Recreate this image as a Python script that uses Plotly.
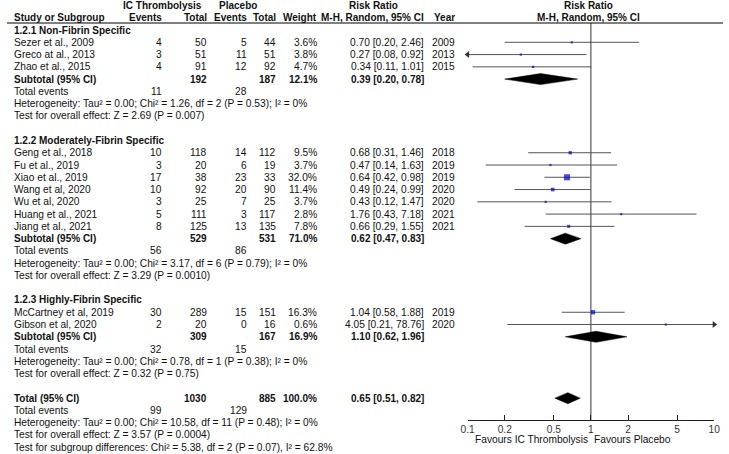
import plotly.graph_objects as go

# ---------------- data ----------------
group_names = ["1.2.1 Non-Fibrin Specific", "1.2.2 Moderately-Fibrin Specific", "1.2.3 Highly-Fibrin Specific"]
study_group = [0, 0, 0, 1, 1, 1, 1, 1, 1, 1, 2, 2]
studies = ["Sezer et al., 2009", "Greco at al., 2013", "Zhao et al., 2015",
           "Geng et al., 2018", "Fu et al., 2019", "Xiao et al., 2019", "Wang et al, 2020",
           "Wu et al, 2020", "Huang et al., 2021", "Jiang et al., 2021",
           "McCartney et al, 2019", "Gibson et al, 2020"]
ic_events = [4, 3, 4, 10, 3, 17, 10, 3, 5, 8, 30, 2]
ic_total = [50, 51, 91, 118, 20, 38, 92, 25, 111, 125, 289, 20]
pl_events = [5, 11, 12, 14, 6, 23, 20, 7, 3, 13, 15, 0]
pl_total = [44, 51, 92, 112, 19, 33, 90, 25, 117, 135, 151, 16]
weights = [3.6, 3.8, 4.7, 9.5, 3.7, 32.0, 11.4, 3.7, 2.8, 7.8, 16.3, 0.6]
rr = [0.70, 0.27, 0.34, 0.68, 0.47, 0.64, 0.49, 0.43, 1.76, 0.66, 1.04, 4.05]
rr_lo = [0.20, 0.08, 0.11, 0.31, 0.14, 0.42, 0.24, 0.12, 0.43, 0.29, 0.58, 0.21]
rr_hi = [2.46, 0.92, 1.01, 1.46, 1.63, 0.98, 0.99, 1.47, 7.18, 1.55, 1.88, 78.76]
years = [2009, 2013, 2015, 2018, 2019, 2019, 2020, 2020, 2021, 2021, 2019, 2020]

sub_ic_total = [192, 529, 309]
sub_pl_total = [187, 531, 167]
sub_weight = [12.1, 71.0, 16.9]
sub_rr = [0.39, 0.62, 1.10]
sub_lo = [0.20, 0.47, 0.62]
sub_hi = [0.78, 0.83, 1.96]
sub_ic_events = [11, 56, 32]
sub_pl_events = [28, 86, 15]
sub_tau2 = ["0.00", "0.00", "0.00"]
sub_chi2 = ["1.26", "3.17", "0.78"]
sub_df = [2, 6, 1]
sub_p_het = ["0.53", "0.79", "0.38"]
sub_i2 = ["0%", "0%", "0%"]
sub_z = ["2.69", "3.29", "0.32"]
sub_p_z = ["0.007", "0.0010", "0.75"]

tot_ic_total, tot_pl_total, tot_weight = 1030, 885, 100.0
tot_rr, tot_lo, tot_hi = 0.65, 0.51, 0.82
tot_ic_events, tot_pl_events = 99, 129
tot_het = ("0.00", "10.58", 11, "0.48", "0%")
tot_z = ("3.57", "0.0004")
subgroup_diff = ("5.38", 2, "0.07", "62.8%")

tick_vals = [0.1, 0.2, 0.5, 1, 2, 5, 10]
tick_text = ["0.1", "0.2", "0.5", "1", "2", "5", "10"]

# ---------------- layout constants ----------------
W, H = 729, 454
ROW0, STEP = 5.5, 12.27
X_LO, X_HI = 0.1, 10
AX_LEFT, AX_RIGHT, AX_Y = 469, 720, 420
C_STUDY, C_ICE, C_ICT, C_PLE, C_PLT, C_W, C_CI, C_YR = 6, 159, 205, 245, 275, 317, 426, 457
FONT = "Liberation Sans"
TXT = "#111111"
REG, BLD = 10.2, 10.0


def ry(k):
    return ROW0 + STEP * k


ann = []


def txt(x, y, s, anchor="left", bold=False, size=None, color=TXT):
    ann.append(dict(x=x / W, xref="paper", y=y, yref="y", text=(f"<b>{s}</b>" if bold else s),
                    showarrow=False, xanchor=anchor, yanchor="middle", borderpad=0,
                    font=dict(family=FONT, size=size or (BLD if bold else REG), color=color)))


def ci_str(r, l, h):
    return f"{r:.2f} [{l:.2f}, {h:.2f}]"


fig = go.Figure()

# headers
txt(158, ry(0), "IC Thrombolysis", "center", True)
txt(235, ry(0), "Placebo", "center", True)
txt(373, ry(0), "Risk Ratio", "center", True)
txt(592, ry(0), "Risk Ratio", "center", True)
txt(C_STUDY, ry(1), "Study or Subgroup", "left", True)
txt(C_ICE, ry(1), "Events", "right", True)
txt(C_ICT, ry(1), "Total", "right", True)
txt(C_PLE, ry(1), "Events", "right", True)
txt(C_PLT, ry(1), "Total", "right", True)
txt(C_W, ry(1), "Weight", "right", True)
txt(C_CI, ry(1), "M-H, Random, 95% CI", "right", True)
txt(C_YR, ry(1), "Year", "right", True)
txt(592, ry(1), "M-H, Random, 95% CI", "center", True)

k = 2
study_y = [0.0] * len(studies)
sub_y = []
for g, gname in enumerate(group_names):
    txt(C_STUDY, ry(k), gname, "left", True)
    k += 1
    for i, sg in enumerate(study_group):
        if sg != g:
            continue
        y = ry(k)
        study_y[i] = y
        txt(C_STUDY, y, studies[i])
        txt(C_ICE, y, str(ic_events[i]), "right")
        txt(C_ICT, y, str(ic_total[i]), "right")
        txt(C_PLE, y, str(pl_events[i]), "right")
        txt(C_PLT, y, str(pl_total[i]), "right")
        txt(C_W, y, f"{weights[i]:.1f}%", "right")
        txt(C_CI, y, ci_str(rr[i], rr_lo[i], rr_hi[i]), "right")
        txt(C_YR, y, str(years[i]), "right")
        k += 1
    y = ry(k)
    sub_y.append(y)
    txt(C_STUDY, y, "Subtotal (95% CI)", "left", True)
    txt(C_ICT, y, str(sub_ic_total[g]), "right", True)
    txt(C_PLT, y, str(sub_pl_total[g]), "right", True)
    txt(C_W, y, f"{sub_weight[g]:.1f}%", "right", True)
    txt(C_CI, y, ci_str(sub_rr[g], sub_lo[g], sub_hi[g]), "right", True)
    k += 1
    txt(C_STUDY, ry(k), "Total events")
    txt(C_ICE, ry(k), str(sub_ic_events[g]), "right")
    txt(C_PLE, ry(k), str(sub_pl_events[g]), "right")
    k += 1
    txt(C_STUDY, ry(k), f"Heterogeneity: Tau² = {sub_tau2[g]}; Chi² = {sub_chi2[g]}, df = {sub_df[g]} "
                        f"(P = {sub_p_het[g]}); I² = {sub_i2[g]}")
    k += 1
    txt(C_STUDY, ry(k), f"Test for overall effect: Z = {sub_z[g]} (P = {sub_p_z[g]})")
    k += 2

y_tot = ry(k)
txt(C_STUDY, y_tot, "Total (95% CI)", "left", True)
txt(C_ICT, y_tot, str(tot_ic_total), "right", True)
txt(C_PLT, y_tot, str(tot_pl_total), "right", True)
txt(C_W, y_tot, f"{tot_weight:.1f}%", "right", True)
txt(C_CI, y_tot, ci_str(tot_rr, tot_lo, tot_hi), "right", True)
txt(C_STUDY, ry(k + 1), "Total events")
txt(C_ICE, ry(k + 1), str(tot_ic_events), "right")
txt(C_PLE, ry(k + 1), str(tot_pl_events), "right")
txt(C_STUDY, ry(k + 2), f"Heterogeneity: Tau² = {tot_het[0]}; Chi² = {tot_het[1]}, df = {tot_het[2]} "
                        f"(P = {tot_het[3]}); I² = {tot_het[4]}")
txt(C_STUDY, ry(k + 3), f"Test for overall effect: Z = {tot_z[0]} (P = {tot_z[1]})")
txt(C_STUDY, ry(k + 4), f"Test for subgroup differences: Chi² = {subgroup_diff[0]}, df = {subgroup_diff[1]} "
                        f"(P = {subgroup_diff[2]}), I² = {subgroup_diff[3]}")

# favours labels
ann.append(dict(x=0, xref="x", y=439, yref="y", text="Favours IC Thrombolysis", showarrow=False,
                xanchor="right", yanchor="middle", xshift=-2, borderpad=0,
                font=dict(family=FONT, size=REG, color=TXT)))
ann.append(dict(x=0, xref="x", y=439, yref="y", text="Favours Placebo", showarrow=False,
                xanchor="left", yanchor="middle", xshift=2, borderpad=0,
                font=dict(family=FONT, size=REG, color=TXT)))

# line of no effect
fig.add_trace(go.Scatter(x=[1, 1], y=[23, AX_Y], mode="lines",
                         line=dict(color="#333333", width=1), hoverinfo="skip"))

# study CI lines + arrows
for i in range(len(studies)):
    lo = max(rr_lo[i], X_LO)
    hi = min(rr_hi[i], X_HI)
    fig.add_trace(go.Scatter(x=[lo, hi], y=[study_y[i], study_y[i]], mode="lines",
                             line=dict(color="#555555", width=1), hoverinfo="skip", cliponaxis=False))
    if rr_lo[i] < X_LO:
        fig.add_trace(go.Scatter(x=[X_LO], y=[study_y[i]], mode="markers", cliponaxis=False,
                                 marker=dict(symbol="triangle-left", size=6, color="#333333"),
                                 hoverinfo="skip"))
    if rr_hi[i] > X_HI:
        fig.add_trace(go.Scatter(x=[X_HI], y=[study_y[i]], mode="markers", cliponaxis=False,
                                 marker=dict(symbol="triangle-right", size=6, color="#333333"),
                                 hoverinfo="skip"))

# squares
fig.add_trace(go.Scatter(x=rr, y=study_y, mode="markers", cliponaxis=False,
                         marker=dict(symbol="square", color="#0000cc",
                                     size=[max(2.2, 1.08 * w ** 0.5) for w in weights],
                                     line=dict(width=0)),
                         hoverinfo="skip"))

# diamonds
HALF = 5.5
for r, l, h, y in list(zip(sub_rr, sub_lo, sub_hi, sub_y)) + [(tot_rr, tot_lo, tot_hi, y_tot)]:
    fig.add_trace(go.Scatter(x=[l, r, h, r, l], y=[y, y - HALF, y, y + HALF, y], mode="lines",
                             fill="toself", fillcolor="black", line=dict(color="black", width=0.5),
                             hoverinfo="skip"))

fig.update_layout(
    width=W, height=H, margin=dict(l=0, r=0, t=0, b=0),
    paper_bgcolor="white", plot_bgcolor="white", showlegend=False,
    annotations=ann,
    shapes=[dict(type="line", xref="paper", yref="y", x0=0, x1=1, y0=23, y1=23,
                 line=dict(color="black", width=1))],
    xaxis=dict(type="log", range=[-1, 1], domain=[AX_LEFT / W, AX_RIGHT / W],
               anchor="free", position=(H - AX_Y) / H,
               showgrid=False, zeroline=False, showline=True, linecolor="#222222", linewidth=1,
               ticks="inside", ticklen=5, tickcolor="#222222", tickwidth=1,
               tickvals=tick_vals, ticktext=tick_text,
               tickfont=dict(family=FONT, size=REG, color="#333333")),
    yaxis=dict(range=[H, 0], domain=[0, 1], visible=False, showgrid=False, zeroline=False),
)

fig.write_html("out.html", config={"displayModeBar": False},
               post_script="document.body.style.margin='0';document.body.style.overflow='hidden';")
